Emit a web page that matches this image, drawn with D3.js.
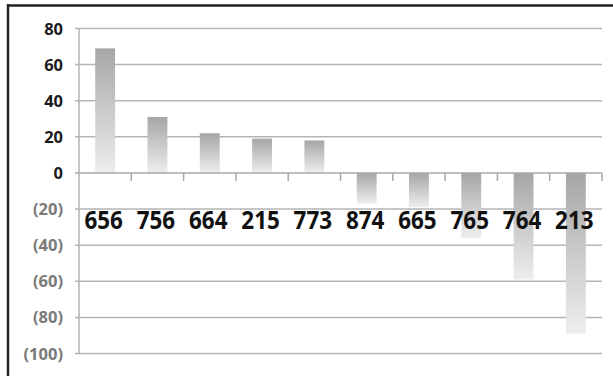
<!DOCTYPE html>
<html>
<head>
<meta charset="utf-8">
<script src="https://cdn.jsdelivr.net/npm/d3@7"></script>
<style>
  html, body { margin: 0; padding: 0; background: #fff; }
  svg { display: block; }
</style>
</head>
<body>
<svg id="chart" width="613" height="376"></svg>
<script>
// Category codes along the x axis and the value of each bar
const categories = ["656", "756", "664", "215", "773", "874", "665", "765", "764", "213"];
const values = [69, 31, 22, 19, 18, -17, -19, -36, -59, -89];
const yTicks = [80, 60, 40, 20, 0, -20, -40, -60, -80, -100];

const svg = d3.select("#chart");
const W = 613, H = 376;
const plot = { left: 79, right: 602, top: 28.5, bottom: 353.5 };

// Frame lines along the top and left edges
svg.append("line").attr("x1", 7).attr("x2", W).attr("y1", 5.5).attr("y2", 5.5)
  .attr("stroke", "#231f20").attr("stroke-width", 2.4);
svg.append("line").attr("x1", 8).attr("x2", 8).attr("y1", 4.3).attr("y2", H)
  .attr("stroke", "#231f20").attr("stroke-width", 2.4);

const x = d3.scaleBand().domain(categories).range([plot.left, plot.right]).padding(0);
const y = d3.scaleLinear().domain([-100, 80]).range([plot.bottom, plot.top]);

// Vertical gradient: darker at the top of each bar, fading lighter downward
const defs = svg.append("defs");
const grad = defs.append("linearGradient").attr("id", "barFill")
  .attr("x1", 0).attr("y1", 0).attr("x2", 0).attr("y2", 1);
grad.append("stop").attr("offset", "0%").attr("stop-color", "#a6a6a6");
grad.append("stop").attr("offset", "100%").attr("stop-color", "#eeeeee");

// Horizontal gridlines
const gridColor = "#b5b5b5";
svg.append("g").selectAll("line").data(yTicks.filter(d => d !== 0)).join("line")
  .attr("x1", plot.left - 4).attr("x2", plot.right)
  .attr("y1", d => y(d)).attr("y2", d => y(d))
  .attr("stroke", gridColor).attr("stroke-width", 1.5);

// Value axis line
svg.append("line").attr("x1", plot.left).attr("x2", plot.left)
  .attr("y1", plot.top).attr("y2", plot.bottom)
  .attr("stroke", gridColor).attr("stroke-width", 1.5);

// Bars
const barW = x.bandwidth() * 0.38;
svg.append("g").selectAll("rect").data(values).join("rect")
  .attr("x", (d, i) => x(categories[i]) + x.bandwidth() / 2 - barW / 2)
  .attr("width", barW)
  .attr("y", d => y(Math.max(0, d)))
  .attr("height", d => Math.abs(y(d) - y(0)))
  .attr("fill", "url(#barFill)");

// Category axis at zero with tick marks between categories
svg.append("line").attr("x1", plot.left - 4).attr("x2", plot.right)
  .attr("y1", y(0)).attr("y2", y(0))
  .attr("stroke", "#a8a8a8").attr("stroke-width", 1.5);
svg.append("g").selectAll("line").data(categories.slice(1).concat(["end"])).join("line")
  .attr("x1", (d, i) => plot.left + x.step() * (i + 1))
  .attr("x2", (d, i) => plot.left + x.step() * (i + 1))
  .attr("y1", y(0)).attr("y2", y(0) + 8)
  .attr("stroke", "#a8a8a8").attr("stroke-width", 1.5);

// Value axis labels, negatives in parentheses
const fmt = d => d < 0 ? `(${-d})` : `${d}`;
svg.append("g").selectAll("text").data(yTicks).join("text")
  .attr("x", 63).attr("y", d => y(d) + 6)
  .attr("text-anchor", "end")
  .attr("font-family", "Open Sans, Lato, sans-serif")
  .attr("font-weight", "bold")
  .attr("font-size", 16.5)
  .attr("fill", d => d < 0 ? "#7a7a7a" : "#1a1a1a")
  .text(fmt);

// Category labels
svg.append("g").selectAll("text").data(categories).join("text")
  .attr("x", d => x(d) + x.bandwidth() / 2 - 1.5)
  .attr("y", 228.5)
  .attr("text-anchor", "middle")
  .attr("font-family", "Open Sans, Lato, sans-serif")
  .attr("font-weight", "bold")
  .attr("font-size", 25)
  .attr("textLength", 38.5)
  .attr("lengthAdjust", "spacingAndGlyphs")
  .attr("fill", "#111")
  .text(d => d);
</script>
</body>
</html>
